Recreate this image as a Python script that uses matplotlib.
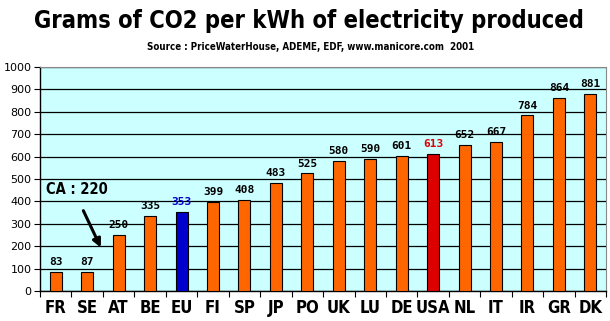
import matplotlib
matplotlib.use("Agg")
import matplotlib.pyplot as plt
from matplotlib.ticker import FixedLocator, NullFormatter

countries = ["FR", "SE", "AT", "BE", "EU", "FI", "SP", "JP", "PO", "UK",
             "LU", "DE", "USA", "NL", "IT", "IR", "GR", "DK"]
values = [83, 87, 250, 335, 353, 399, 408, 483, 525, 580,
          590, 601, 613, 652, 667, 784, 864, 881]
special_colors = {"EU": "#0000CC", "USA": "#DD0000"}
label_colors = {"EU": "#0000CC", "USA": "#DD0000"}
yticks = list(range(0, 1001, 100))

COND = dict(family="DejaVu Sans", stretch="condensed", weight="bold")

fig = plt.figure(figsize=(6.10, 3.21), dpi=100)
ax = fig.add_axes([0.0656, 0.0935, 0.928, 0.6975])
ax.set_facecolor("#CCFFFF")

x = list(range(len(countries)))
colors = [special_colors.get(c, "#FF6600") for c in countries]
ax.bar(x, values, width=0.38, color=colors, edgecolor="black", linewidth=0.8, zorder=3)

for xi, v, c in zip(x, values, countries):
    ax.text(xi, v + 22, str(v), ha="center", va="bottom", fontsize=8,
            family="DejaVu Sans Mono", weight="bold",
            color=label_colors.get(c, "black"), zorder=4)

ax.set_xlim(-0.5, len(countries) - 0.5)
ax.set_ylim(0, 1000)
ax.set_yticks(yticks)
ax.yaxis.grid(True, color="black", linewidth=0.9, zorder=1)
ax.set_axisbelow(True)
ax.tick_params(axis="y", labelsize=8, length=4, width=0.8, pad=2)
ax.set_xticks(x)
ax.set_xticklabels(countries, fontsize=12, **COND)
ax.tick_params(axis="x", which="major", length=0, pad=6)
ax.xaxis.set_minor_locator(FixedLocator([i - 0.5 for i in range(len(countries) + 1)]))
ax.xaxis.set_minor_formatter(NullFormatter())
ax.tick_params(axis="x", which="minor", length=4, width=0.8)

for s in ["left", "bottom"]:
    ax.spines[s].set_color("black")
    ax.spines[s].set_linewidth(1.0)
ax.spines["top"].set_color("#888888")
ax.spines["right"].set_color("#888888")

fig.text(0.507, 0.935, "Grams of CO2 per kWh of electricity produced", ha="center", va="center",
         fontsize=17, **COND)
fig.text(0.51, 0.853, "Source : PriceWaterHouse, ADEME, EDF, www.manicore.com  2001", ha="center",
         va="center", fontsize=7, **COND)

ax.text(0.68, 455, "CA : 220", ha="center", va="center", fontsize=10.5, zorder=5, **COND)
ax.annotate("", xy=(1.47, 183), xytext=(0.84, 370),
            arrowprops=dict(arrowstyle="-|>", color="black", lw=2.2, mutation_scale=12), zorder=5)

fig.savefig("out.png", dpi=100, facecolor="white")
